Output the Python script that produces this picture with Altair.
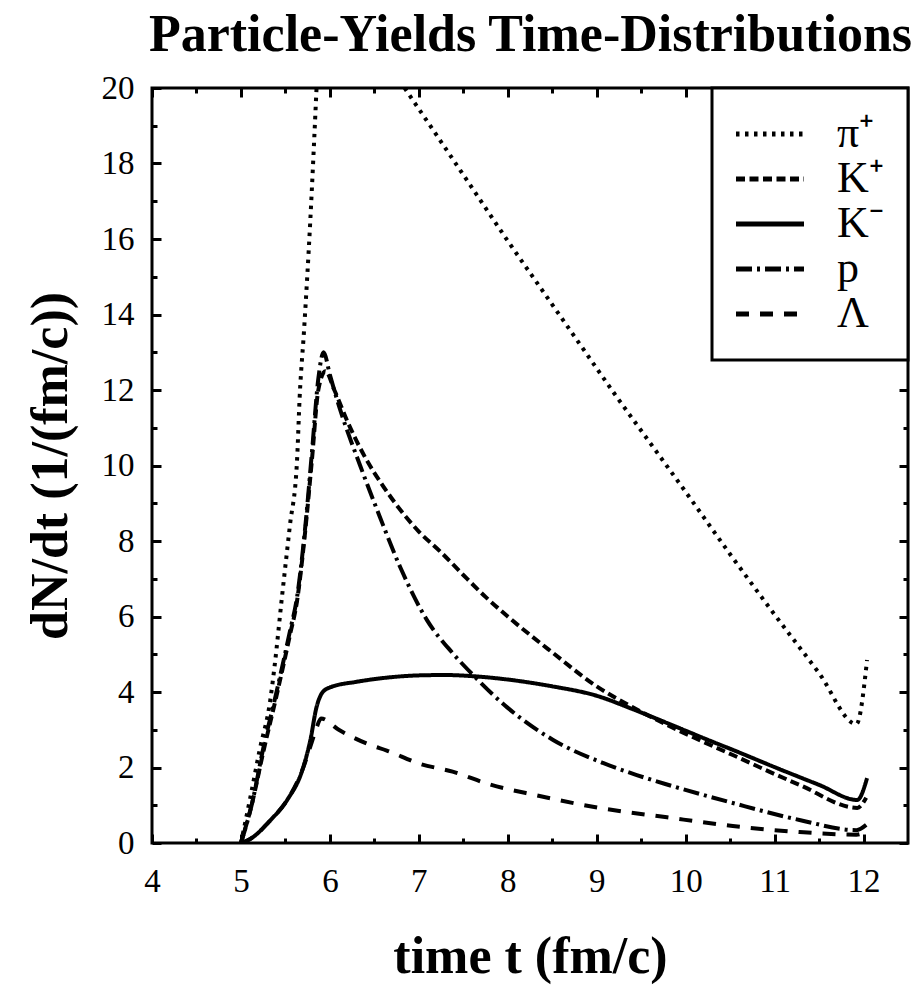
import altair as alt
import pandas as pd

title_text = "Particle-Yields Time-Distributions"
x_title = "time t (fm/c)"
y_title = "dN/dt (1/(fm/c))"

particles = ["π⁺", "K⁺", "K⁻", "p", "Λ"]
dash_patterns = [[3.5, 5.5], [9, 4.5], [1, 0], [16, 5, 3, 5], [13, 11]]

# pi+ (goes off the top of the frame between t=5.85 and t=6.84: two visible pieces)
pi_rise_t = [5.0, 5.1, 5.21, 5.33, 5.38, 5.46, 5.55, 5.63, 5.66, 5.71, 5.78, 5.85]
pi_rise_y = [0.0, 1.14, 2.46, 3.79, 4.72, 6.49, 8.4, 10.1, 11.8, 13.6, 16.5, 20.0]
pi_fall_t = [6.84, 7.2, 7.6, 8.0, 8.4, 8.8, 9.2, 9.6, 10.0, 10.5, 11.0, 11.5, 11.92, 12.04]
pi_fall_y = [20.0, 18.75, 17.35, 15.95, 14.6, 13.25, 11.9, 10.6, 9.3, 7.65, 6.05, 4.5, 3.15, 4.85]

# K+
kp_t = [5.0, 5.13, 5.25, 5.4, 5.55, 5.63, 5.72, 5.8, 5.87, 5.95, 6.05, 6.2, 6.4,
        6.6, 6.8, 7.0, 7.25, 7.5, 7.75, 8.0, 8.5, 9.0, 9.4, 9.79, 10.53,
        11.28, 11.93, 12.03]
kp_y = [0.0, 1.1, 2.4, 3.9, 5.5, 6.4, 8.2, 10.2, 12.0, 12.5, 12.0, 11.15, 10.2,
        9.45, 8.8, 8.25, 7.7, 7.1, 6.52, 6.0, 5.05, 4.15, 3.6, 3.13, 2.33,
        1.54, 0.93, 1.2]

# K-
km_t = [5.0, 5.1, 5.33, 5.52, 5.69, 5.78, 5.85, 5.92, 6.0, 6.3, 6.6, 7.0, 7.3,
        7.6, 8.0, 8.5, 9.0, 9.4, 9.8, 10.2, 10.6, 11.0, 11.5, 11.93, 12.04]
km_y = [0.0, 0.1, 0.6, 1.14, 1.93, 2.72, 3.6, 4.0, 4.12, 4.27, 4.37, 4.44, 4.45,
        4.42, 4.33, 4.15, 3.9, 3.55, 3.17, 2.78, 2.4, 2.01, 1.54, 1.14, 1.72]

# p
pr_t = [5.0, 5.13, 5.25, 5.4, 5.55, 5.63, 5.72, 5.8, 5.87, 5.93, 6.0, 6.11, 6.34,
        6.56, 6.79, 7.09, 7.38, 7.61, 7.99, 8.51, 9.07, 9.45, 9.79, 10.53, 11.28,
        11.92, 12.03]
pr_y = [0.0, 1.1, 2.5, 4.0, 5.6, 6.5, 8.3, 10.4, 12.3, 13.0, 12.4, 11.52, 10.0,
        8.65, 7.31, 5.91, 5.03, 4.45, 3.6, 2.73, 2.12, 1.8, 1.55, 1.06, 0.61,
        0.34, 0.48]

# Lambda
la_t = [5.0, 5.1, 5.33, 5.52, 5.69, 5.78, 5.85, 5.9, 6.1, 6.45, 6.64, 7.01, 7.38,
        7.8, 8.33, 9.03, 9.79, 10.53, 11.28, 11.92, 12.03]
la_y = [0.0, 0.1, 0.6, 1.14, 1.93, 2.55, 3.05, 3.3, 3.0, 2.6, 2.45, 2.1, 1.89,
        1.55, 1.26, 0.93, 0.68, 0.45, 0.29, 0.22, 0.3]

x_label_values = [4, 5, 6, 7, 8, 9, 10, 11, 12]
x_minor_values = [4.5, 5.5, 6.5, 7.5, 8.5, 9.5, 10.5, 11.5]
y_label_values = [0, 2, 4, 6, 8, 10, 12, 14, 16, 18, 20]
y_minor_values = [1, 3, 5, 7, 9, 11, 13, 15, 17, 19]

series = [(particles[0], "a", pi_rise_t, pi_rise_y), (particles[0], "b", pi_fall_t, pi_fall_y),
          (particles[1], "a", kp_t, kp_y), (particles[2], "a", km_t, km_y),
          (particles[3], "a", pr_t, pr_y), (particles[4], "a", la_t, la_y)]
rows = []
for name, seg, ts, ys_ in series:
    for t, v in zip(ts, ys_):
        rows.append({"particle": name, "seg": name + seg, "t": t, "v": v})
df = pd.DataFrame(rows)

FONT = "Liberation Serif"
W, H = 756, 755
xs = alt.Scale(domain=[4, 12.5], nice=False, zero=False)
ys = alt.Scale(domain=[0, 20], nice=False, zero=False)

lines = alt.Chart(df).mark_line(
    clip=True, strokeWidth=4, color="black", interpolate="monotone"
).encode(
    x=alt.X("t:Q", scale=xs, axis=alt.Axis(
        orient="bottom", title=x_title, values=x_label_values, ticks=False, tickSize=0,
        domain=False, grid=False, labelFont=FONT, labelFontSize=33, labelPadding=22,
        labelColor="black", labelFlush=False, labelOverlap=False,
        titleFont=FONT, titleFontSize=52, titleFontWeight="bold", titleColor="black",
        titleX=W / 2, titleY=129, titleBaseline="alphabetic")),
    y=alt.Y("v:Q", scale=ys, axis=alt.Axis(
        orient="left", title=y_title, values=y_label_values, ticks=False, tickSize=0,
        domain=False, grid=False, labelFont=FONT, labelFontSize=33, labelPadding=18,
        labelColor="black", labelFlush=False, labelOverlap=False,
        titleFont=FONT, titleFontSize=52, titleFontWeight="bold", titleColor="black",
        titleAngle=270, titleX=-86, titleY=H / 2, titleBaseline="alphabetic")),
    strokeDash=alt.StrokeDash("particle:N", scale=alt.Scale(domain=particles, range=dash_patterns),
        legend=alt.Legend(title=None, orient="top-right", offset=0, padding=24, rowPadding=1,
                          labelFont=FONT, labelFontSize=44, labelColor="black", labelOffset=45,
                          symbolType="M-2,0H2", symbolSize=1156, symbolStrokeWidth=5,
                          symbolOffset=12, symbolStrokeColor="black", strokeColor="black",
                          fillColor="white", labelLimit=300)),
    detail="seg:N",
)


def tick_layer(x_orient, x_vals, y_orient, y_vals, size, x_extra=None):
    common = dict(labels=False, domain=False, grid=False,
                  tickColor="black", tickWidth=3, tickSize=alt.ExprRef(expr=str(-size)))
    x_axis_args = dict(common)
    if x_extra:
        x_axis_args.update(x_extra)
    else:
        x_axis_args["title"] = None
    return alt.Chart(df).mark_point(opacity=0, clip=True).encode(
        x=alt.X("t:Q", scale=xs, axis=alt.Axis(orient=x_orient, values=x_vals, **x_axis_args)),
        y=alt.Y("v:Q", scale=ys, axis=alt.Axis(orient=y_orient, values=y_vals, title=None, **common)),
    )


# the chart heading is carried by the top axis
heading = dict(title=title_text, titleFont=FONT, titleFontSize=52, titleFontWeight="bold",
               titleColor="black", titleX=W / 2, titleY=-38, titleAlign="center",
               titleBaseline="alphabetic", titleAngle=0)

t1 = tick_layer("bottom", x_label_values, "left", y_label_values, 9)
t2 = tick_layer("bottom", x_minor_values, "left", y_minor_values, 5)
t3 = tick_layer("top", x_label_values, "right", y_label_values, 9, heading)
t4 = tick_layer("top", x_minor_values, "right", y_minor_values, 5)

chart = alt.layer(lines, t1, t2, t3, t4).resolve_axis(
    x="independent", y="independent"
).properties(
    width=W, height=H,
    autosize=alt.AutoSizeParams(type="none"),
    padding={"left": 144, "top": 80, "right": 7, "bottom": 150},
).configure_view(
    stroke="black", strokeWidth=3
).configure_legend(
    strokeWidth=3
)

chart.save("out.html", embed_options={"renderer": "svg", "actions": False})
